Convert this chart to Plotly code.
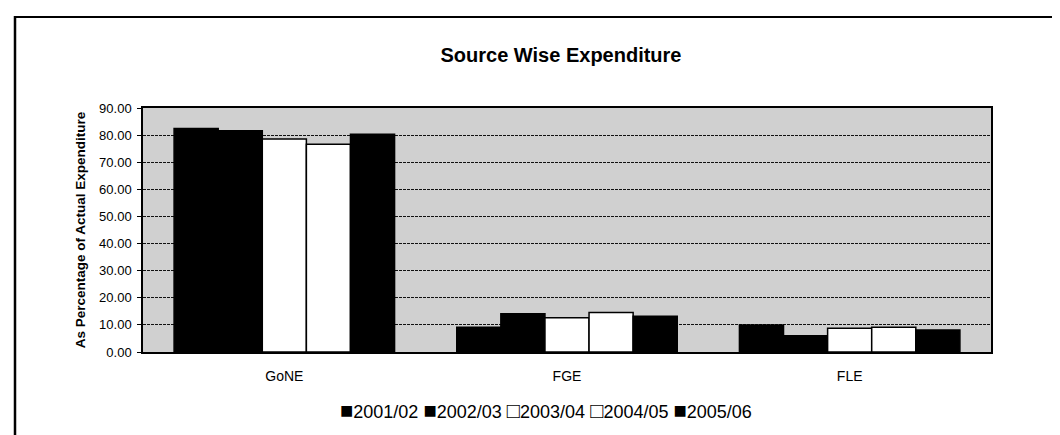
import plotly.graph_objects as go

categories = ["GoNE", "FGE", "FLE"]
years = ["2001/02", "2002/03", "2003/04", "2004/05", "2005/06"]
values = {
    "2001/02": [82.4, 9.1, 10.0],
    "2002/03": [81.6, 14.1, 6.0],
    "2003/04": [78.6, 12.6, 8.8],
    "2004/05": [76.6, 14.6, 9.1],
    "2005/06": [80.3, 13.2, 8.1],
}
fill_colors = ["#000000", "#000000", "#ffffff", "#ffffff", "#000000"]
y_ticks = [0, 10, 20, 30, 40, 50, 60, 70, 80, 90]

W, H = 1060, 435
L, R, T, B = 135, 77, 100, 91
pw, ph = W - L - R, H - T - B

def px_x(p):
    return (p - L) / pw

def px_y(p):
    return (H - B - p) / ph

fig = go.Figure()
for yr, col in zip(years, fill_colors):
    fig.add_trace(go.Bar(
        x=categories, y=values[yr], name=yr,
        marker=dict(color=col, line=dict(color="#000000", width=1.5)),
        showlegend=False,
    ))

legend_text = " ".join(
    '<span style="font-size:22px">' + ("\u25a0" if c == "#000000" else "\u25a1") + "</span>" + yr
    for yr, c in zip(years, fill_colors)
)

fig.update_layout(
    width=W, height=H,
    margin=dict(l=L, r=R, t=T, b=B),
    paper_bgcolor="#ffffff",
    plot_bgcolor="#d0d0d0",
    barmode="group",
    bargap=0.22,
    bargroupgap=0,
    font=dict(family="Liberation Sans, Arial, sans-serif", color="#000000"),
    title=dict(
        text="<b>Source Wise Expenditure</b>",
        font=dict(size=20, family="Liberation Sans, Arial, sans-serif", color="#000000"),
        x=px_x(553), xref="paper", xanchor="center",
        y=1 - 47 / H, yref="container", yanchor="middle",
    ),
    xaxis=dict(
        showgrid=False, showline=True, linecolor="#000000", linewidth=1.5, mirror=True,
        tickfont=dict(size=14), ticks="", ticklabelstandoff=10,
    ),
    yaxis=dict(
        range=[0, 90], tickvals=y_ticks, tickformat=".2f",
        showgrid=True, gridcolor="#111111", gridwidth=1, griddash="3px,1px",
        showline=True, linecolor="#000000", linewidth=1.5, mirror=True,
        ticks="outside", ticklen=4, tickcolor="#000000",
        tickfont=dict(size=13), ticklabelstandoff=3,
        title=dict(text="<b>As Percentage of Actual Expenditure</b>", font=dict(size=13.5), standoff=10),
        zeroline=False,
    ),
    annotations=[dict(
        text=legend_text, xref="paper", yref="paper",
        x=px_x(538), y=px_y(402), xanchor="center", yanchor="middle",
        showarrow=False, font=dict(size=18, color="#000000"),
    )],
    shapes=[
        dict(type="line", xref="paper", yref="paper",
             x0=px_x(6), x1=px_x(1060), y0=px_y(9), y1=px_y(9),
             line=dict(color="#000000", width=2)),
        dict(type="line", xref="paper", yref="paper",
             x0=px_x(7), x1=px_x(7), y0=px_y(8), y1=px_y(435),
             line=dict(color="#000000", width=2.5)),
    ],
)

fig.write_html("out.html")
